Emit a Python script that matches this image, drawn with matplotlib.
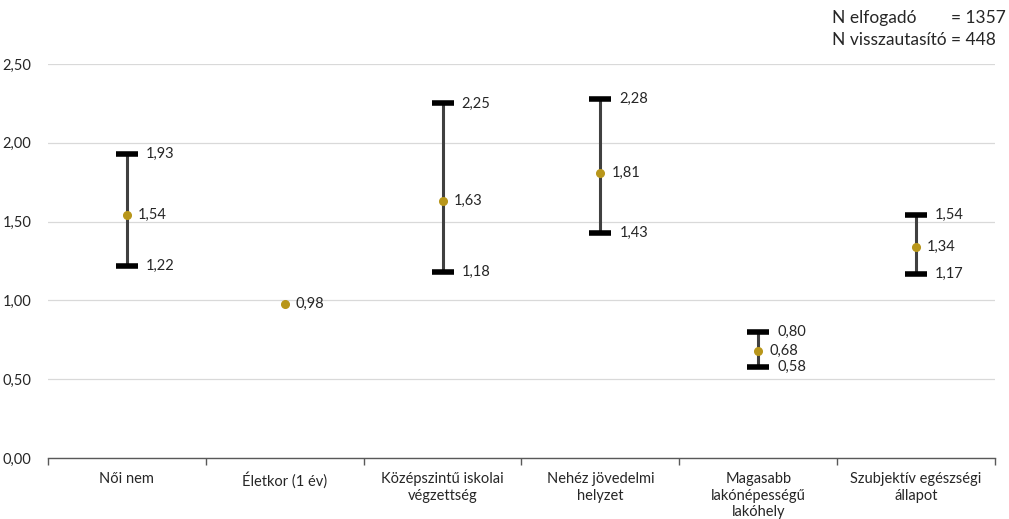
import matplotlib
matplotlib.use("Agg")
import matplotlib.pyplot as plt
from matplotlib.ticker import FuncFormatter, FixedLocator, MultipleLocator

plt.rcParams['font.family'] = ['Lato', 'DejaVu Sans']

categories = ["Női nem", "Életkor (1 év)", "Középszintű iskolai\nvégzettség",
              "Nehéz jövedelmi\nhelyzet", "Magasabb\nlakónépességű\nlakóhely",
              "Szubjektív egészségi\nállapot"]
estimate = [1.54, 0.98, 1.63, 1.81, 0.68, 1.34]
lower = [1.22, None, 1.18, 1.43, 0.58, 1.17]
upper = [1.93, None, 2.25, 2.28, 0.80, 1.54]

def hu(v):
    return f"{v:.2f}".replace(".", ",")

fig = plt.figure(figsize=(10.09, 5.19), dpi=100)
ax = fig.add_axes([48/1009, 1-458/519, 947/1009, 394/519])

text_col = "#262626"
gold = "#B8961A"

ax.set_xlim(-0.5, len(categories) - 0.5)
ax.set_ylim(0, 2.5)
ax.yaxis.set_major_locator(MultipleLocator(0.5))
ax.yaxis.set_major_formatter(FuncFormatter(lambda v, p: hu(v)))
ax.grid(axis="y", color="#D9D9D9", linewidth=0.9)
ax.set_axisbelow(True)
for s in ("top", "right", "left"):
    ax.spines[s].set_visible(False)
ax.spines["bottom"].set_color("#595959")
ax.spines["bottom"].set_linewidth(1.0)
ax.tick_params(axis="y", length=0, pad=12, labelsize=10.5, labelcolor=text_col)

ax.set_xticks(range(len(categories)))
ax.set_xticklabels(categories, fontsize=10.5, color=text_col, linespacing=1.25)
ax.tick_params(axis="x", which="major", length=0, pad=10)
ax.xaxis.set_minor_locator(FixedLocator([i - 0.5 for i in range(len(categories) + 1)]))
ax.tick_params(axis="x", which="minor", length=5, color="#595959", width=1.0)

cap_half = 0.07
for i, (m, lo, hi) in enumerate(zip(estimate, lower, upper)):
    if lo is not None:
        ax.plot([i, i], [lo, hi], color="#404040", linewidth=2.2, zorder=2, solid_capstyle="butt")
        for v in (lo, hi):
            ax.plot([i - cap_half, i + cap_half], [v, v], color="black", linewidth=4,
                    zorder=3, solid_capstyle="butt")
            ax.text(i + 0.12, v, hu(v), fontsize=10.5, color=text_col, va="center", ha="left")
    ax.plot(i, m, "o", color=gold, markersize=5.5, zorder=4)
    ax.text(i + 0.07, m, hu(m), fontsize=10.5, color=text_col, va="center", ha="left")

fig.text(832/1009, 1-18/519, "N elfogadó", fontsize=12.5, color=text_col, va="center", ha="left")
fig.text(951/1009, 1-18/519, "= 1357", fontsize=12.5, color=text_col, va="center", ha="left")
fig.text(832/1009, 1-40/519, "N visszautasító", fontsize=12.5, color=text_col, va="center", ha="left")
fig.text(951/1009, 1-40/519, "= 448", fontsize=12.5, color=text_col, va="center", ha="left")

fig.savefig("out.png", dpi=100, facecolor="white")
